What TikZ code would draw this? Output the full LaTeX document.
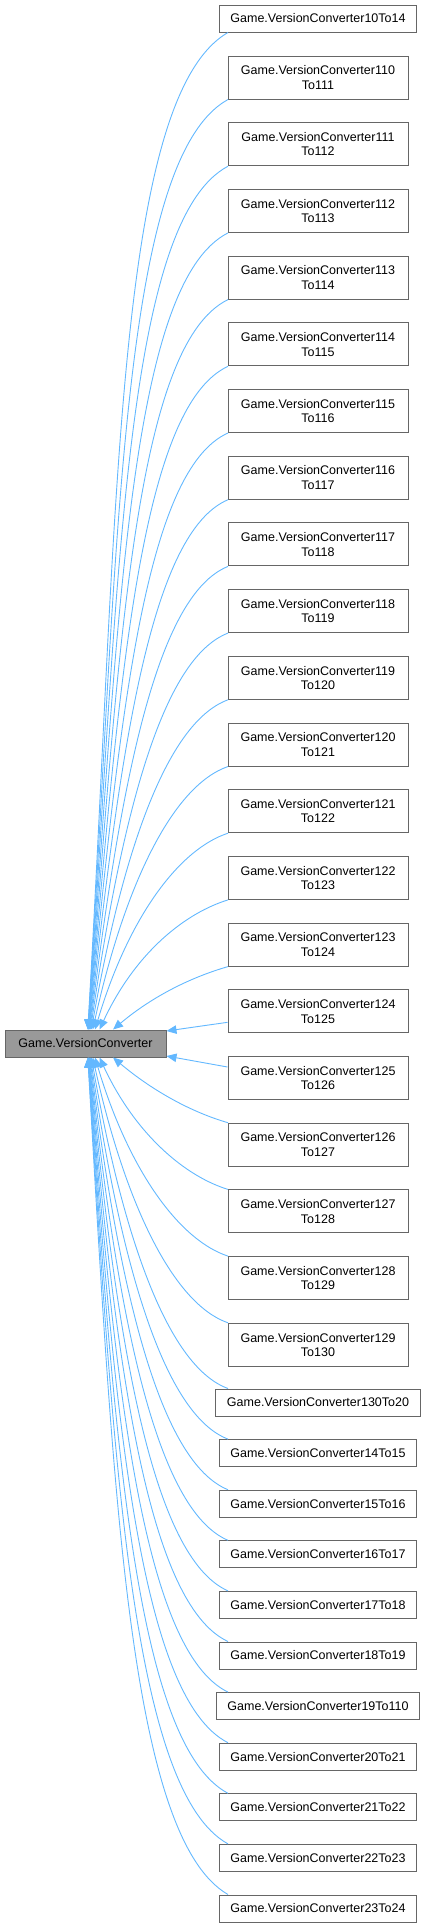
\documentclass[tikz,border=0pt]{standalone}
\usepackage{fontspec}
\setmainfont{Liberation Sans}
\usetikzlibrary{arrows.meta}

\definecolor{edgeblue}{HTML}{63B8FF}
\definecolor{boxgray}{HTML}{666666}
\definecolor{basefill}{HTML}{999999}

\begin{document}
\begin{tikzpicture}[x=1pt, y=1pt,
	font=\fontsize{12.5}{14.5}\selectfont,
	conv/.style = {rectangle, draw=boxgray, fill=white, line width=1pt, inner xsep=11pt, inner ysep=2pt, minimum height=27pt},
	convtwo/.style = {conv, align=center, inner xsep=4pt, minimum width=180pt, minimum height=43pt},
	basecls/.style = {conv, fill=basefill, inner xsep=10pt, minimum width=161pt},
	inh/.style = {draw=edgeblue, line width=0.9pt, -{Triangle[length=10pt, width=8.5pt]}}]
	\useasboundingbox (0,0) rectangle (428,-1928);
	
	\node (base) [basecls] at (85.5,-1043.5) {Game.VersionConverter};
	\coordinate (lx) at (228,0);
	
	\node (c10) [conv] at (318,-18.5) {Game.VersionConverter10To14};
	\foreach \v [count=\k from 0] in {110,...,129} {
		\pgfmathtruncatemacro\w{\v+1}
		\node (c\v) [convtwo] at (318,{-77.5-66.7*\k}) {Game.VersionConverter\v\\To\w};
	}
	\foreach \a/\b [count=\k from 0] in {130/20,14/15,15/16,16/17,17/18,18/19,19/110,20/21,21/22,22/23,23/24}
		\node (c\a) [conv] at (318,{-1402.5-50.6*\k}) {Game.VersionConverter\a To\b};
	
	% above the base class
	\foreach \n/\d in {10/15,110/14,111/13,112/12,113/11,114/10,115/9,116/8,117/7,118/6,119/5,120/4,121/3,122/2,123/1} {
		\pgfmathsetmacro\dy{66.7*\d}
		\pgfmathsetmacro\oa{195+\d}
		\pgfmathsetmacro\ia{90-50/\d}
		\pgfmathsetmacro\od{30+0.1*\dy}
		\pgfmathsetmacro\id{20+0.5*\dy}
		\pgfmathsetmacro\sx{0.5+27/\d}
		\draw[inh] (lx |- c\n.south) to[out=\oa, in=\ia, out distance=\od pt, in distance=\id pt] ([xshift=\sx pt]base.north);
	}
	% below the base class
	\foreach \n/\d in {126/1,127/2,128/3,129/4,130/5,14/6,15/7,16/8,17/9,18/10,19/11,20/12,21/13,22/14,23/15} {
		\pgfmathsetmacro\dy{\d<5 ? 66.7*\d : 332+50.6*(\d-5)}
		\pgfmathsetmacro\oa{165-\d}
		\pgfmathsetmacro\ia{-90+50/\d}
		\pgfmathsetmacro\od{30+0.1*\dy}
		\pgfmathsetmacro\id{20+0.5*\dy}
		\pgfmathsetmacro\sx{0.5+27/\d}
		\draw[inh] (lx |- c\n.north) to[out=\oa, in=\ia, out distance=\od pt, in distance=\id pt] ([xshift=\sx pt]base.south);
	}
	\draw[inh] ([yshift=-11pt]c124.west) -- ([yshift=-1.5pt]base.north east);
	\draw[inh] ([yshift=11pt]c125.west) -- ([yshift=1.5pt]base.south east);
\end{tikzpicture}
\end{document}
